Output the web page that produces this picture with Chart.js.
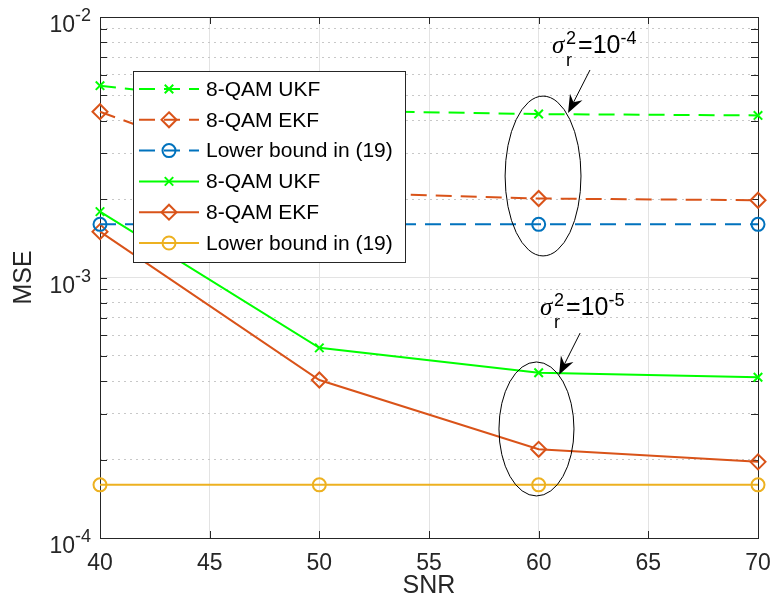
<!DOCTYPE html>
<html>
<head>
<meta charset="utf-8">
<title>MSE vs SNR</title>
<script src="https://cdn.jsdelivr.net/npm/chart.js@4.4.0/dist/chart.umd.min.js"></script>
<style>
    html, body { margin: 0; padding: 0; background: #fff; }
    #wrap { width: 771px; height: 601px; }
</style>
</head>
<body>
<div id="wrap"><canvas id="mseChart" width="771" height="601"></canvas></div>
<script>
// data
const snr = [40, 50, 60, 70];
const ukfDashed = [5.45e-3, 4.38e-3, 4.24e-3, 4.19e-3];
const ekfDashed = [4.33e-3, 2.13e-3, 2.01e-3, 1.98e-3];
const boundDashed = [1.60e-3, 1.60e-3, 1.60e-3, 1.60e-3];
const ukfSolid = [1.79e-3, 5.37e-4, 4.31e-4, 4.14e-4];
const ekfSolid = [1.50e-3, 4.04e-4, 2.19e-4, 1.96e-4];
const boundSolid = [1.60e-4, 1.60e-4, 1.60e-4, 1.60e-4];
const seriesNames = ['8-QAM UKF', '8-QAM EKF', 'Lower bound in (19)', '8-QAM UKF', '8-QAM EKF', 'Lower bound in (19)'];

const xTicks = [40, 45, 50, 55, 60, 65, 70];
const yMajorTicks = [1e-4, 1e-3, 1e-2];
const yTickLabels = [['10', '-4'], ['10', '-3'], ['10', '-2']];
const yMinorTicks = [2e-4, 3e-4, 4e-4, 5e-4, 6e-4, 7e-4, 8e-4, 9e-4,
                     2e-3, 3e-3, 4e-3, 5e-3, 6e-3, 7e-3, 8e-3, 9e-3];

// annotations (in data coordinates)
const noteEllipses = [
    { x0: 58.47, x1: 61.93, y0: 1.21e-3, y1: 4.97e-3 },
    { x0: 58.19, x1: 61.61, y0: 1.45e-4, y1: 4.74e-4 }
];
const noteArrows = [
    { from: [62.34, 6.26e-3], to: [61.34, 4.28e-3] },
    { from: [61.89, 6.12e-4], to: [60.93, 4.23e-4] }
];
const noteTexts = [
    { x: 60.61, y: 7.27e-3, exp: '-4' },
    { x: 60.06, y: 7.18e-4, exp: '-5' }
];

const FONT = '"Liberation Sans", Arial, Helvetica, sans-serif';
const INK = '#262626';
const GREEN = '#00FF00', ORANGE = '#D95319', BLUE = '#0072BD', YELLOW = '#EDB120';

function makeSet(label, values, color, style, radius, dashed) {
    return {
        label: label,
        data: snr.map((x, i) => ({ x: x, y: values[i] })),
        borderColor: color,
        backgroundColor: 'rgba(0,0,0,0)',
        borderWidth: 2,
        borderDash: dashed ? [16, 9] : [],
        pointStyle: style,
        pointRadius: radius,
        pointHoverRadius: radius,
        pointBorderWidth: 2,
        pointBorderColor: color,
        pointBackgroundColor: 'rgba(0,0,0,0)',
        tension: 0,
        fill: false,
        clip: false
    };
}

const datasets = [
    makeSet(seriesNames[0], ukfDashed, GREEN, 'crossRot', 6, true),
    makeSet(seriesNames[1], ekfDashed, ORANGE, 'rectRot', 7.5, true),
    makeSet(seriesNames[2], boundDashed, BLUE, 'circle', 6.5, true),
    makeSet(seriesNames[3], ukfSolid, GREEN, 'crossRot', 6, false),
    makeSet(seriesNames[4], ekfSolid, ORANGE, 'rectRot', 7.5, false),
    makeSet(seriesNames[5], boundSolid, YELLOW, 'circle', 6.5, false)
];

function strokeMarker(ctx, style, x, y, r) {
    ctx.beginPath();
    if (style === 'crossRot') {
        const d = Math.SQRT1_2 * r;
        ctx.moveTo(x - d, y - d); ctx.lineTo(x + d, y + d);
        ctx.moveTo(x - d, y + d); ctx.lineTo(x + d, y - d);
    } else if (style === 'rectRot') {
        ctx.moveTo(x, y - r); ctx.lineTo(x + r, y);
        ctx.lineTo(x, y + r); ctx.lineTo(x - r, y);
        ctx.closePath();
    } else {
        ctx.arc(x, y, r, 0, Math.PI * 2);
    }
    ctx.stroke();
}

// box + inward ticks like the original axes
const framePlugin = {
    id: 'frame',
    beforeDatasetsDraw(chart) {
        const { ctx, chartArea: a, scales } = chart;
        const len = 7;
        ctx.save();
        ctx.strokeStyle = INK;
        ctx.lineWidth = 1;
        ctx.setLineDash([]);
        ctx.strokeRect(a.left + 0.5, a.top + 0.5, a.right - a.left, a.bottom - a.top);
        ctx.beginPath();
        xTicks.forEach(v => {
            const px = Math.round(scales.x.getPixelForValue(v)) + 0.5;
            ctx.moveTo(px, a.bottom); ctx.lineTo(px, a.bottom - len);
            ctx.moveTo(px, a.top); ctx.lineTo(px, a.top + len);
        });
        yMajorTicks.concat(yMinorTicks).forEach(v => {
            const py = Math.round(scales.y.getPixelForValue(v)) + 0.5;
            ctx.moveTo(a.left, py); ctx.lineTo(a.left + len, py);
            ctx.moveTo(a.right, py); ctx.lineTo(a.right - len, py);
        });
        ctx.stroke();
        ctx.restore();
    }
};

// ellipses, arrows and sigma labels
const notesPlugin = {
    id: 'notes',
    afterDatasetsDraw(chart) {
        const { ctx, scales } = chart;
        const X = v => scales.x.getPixelForValue(v);
        const Y = v => scales.y.getPixelForValue(v);
        ctx.save();
        ctx.strokeStyle = '#000';
        ctx.fillStyle = '#000';
        ctx.lineWidth = 1;
        ctx.setLineDash([]);

        noteEllipses.forEach(e => {
            const l = X(e.x0), r = X(e.x1), t = Y(e.y1), b = Y(e.y0);
            ctx.beginPath();
            ctx.ellipse((l + r) / 2, (t + b) / 2, (r - l) / 2, (b - t) / 2, 0, 0, Math.PI * 2);
            ctx.stroke();
        });

        noteArrows.forEach(ar => {
            const x0 = X(ar.from[0]), y0 = Y(ar.from[1]);
            const x1 = X(ar.to[0]), y1 = Y(ar.to[1]);
            const dx = x1 - x0, dy = y1 - y0, d = Math.hypot(dx, dy);
            const ux = dx / d, uy = dy / d, nx = -uy, ny = ux;
            const head = 18, half = 7, notch = 12;
            ctx.beginPath();
            ctx.moveTo(x0, y0);
            ctx.lineTo(x1 - ux * notch, y1 - uy * notch);
            ctx.stroke();
            ctx.beginPath();
            ctx.moveTo(x1, y1);
            ctx.lineTo(x1 - ux * head + nx * half, y1 - uy * head + ny * half);
            ctx.lineTo(x1 - ux * notch, y1 - uy * notch);
            ctx.lineTo(x1 - ux * head - nx * half, y1 - uy * head - ny * half);
            ctx.closePath();
            ctx.fill();
        });

        ctx.textAlign = 'left';
        ctx.textBaseline = 'alphabetic';
        noteTexts.forEach(n => {
            const x = X(n.x), y = Y(n.y);
            ctx.font = 'italic 25px "Liberation Serif", "DejaVu Serif", serif';
            ctx.fillText('\u03C3', x, y);
            ctx.font = '18px ' + FONT;
            ctx.fillText('2', x + 14, y - 9);
            ctx.fillText('r', x + 14, y + 13);
            ctx.font = '25px ' + FONT;
            ctx.fillText('=10', x + 26, y);
            const w = ctx.measureText('=10').width;
            ctx.font = '18px ' + FONT;
            ctx.fillText(n.exp, x + 26 + w, y - 9);
        });
        ctx.restore();
    }
};

// y tick labels with superscripts, and the legend box
const labelsPlugin = {
    id: 'labels',
    afterDraw(chart) {
        const { ctx, scales } = chart;
        ctx.save();
        ctx.fillStyle = INK;
        ctx.textAlign = 'left';
        ctx.textBaseline = 'alphabetic';
        yMajorTicks.forEach((v, i) => {
            const py = scales.y.getPixelForValue(v);
            const [base, exp] = yTickLabels[i];
            ctx.font = '18px ' + FONT;
            const we = ctx.measureText(exp).width;
            ctx.font = '23px ' + FONT;
            const wb = ctx.measureText(base).width;
            const right = 91;
            ctx.fillText(base, right - we - wb, py + 15);
            ctx.font = '18px ' + FONT;
            ctx.fillText(exp, right - we, py + 4);
        });

        // legend
        const box = { left: 133, top: 71, right: 405, bottom: 262 };
        ctx.fillStyle = '#fff';
        ctx.fillRect(box.left, box.top, box.right - box.left, box.bottom - box.top);
        ctx.strokeStyle = INK;
        ctx.lineWidth = 1;
        ctx.setLineDash([]);
        ctx.strokeRect(box.left + 0.5, box.top + 0.5, box.right - box.left, box.bottom - box.top);
        chart.data.datasets.forEach((ds, i) => {
            const y = box.top + 18 + i * 30.8;
            ctx.strokeStyle = ds.borderColor;
            ctx.lineWidth = 2;
            ctx.setLineDash(ds.borderDash);
            ctx.beginPath();
            ctx.moveTo(139, y); ctx.lineTo(199, y);
            ctx.stroke();
            ctx.setLineDash([]);
            strokeMarker(ctx, ds.pointStyle, 169, y, ds.pointRadius);
            ctx.fillStyle = '#000';
            ctx.font = '21px ' + FONT;
            ctx.textBaseline = 'middle';
            ctx.fillText(ds.label, 206, y + 1);
        });
        ctx.restore();
    }
};

const ctx = document.getElementById('mseChart').getContext('2d');
const mseChart = new Chart(ctx, {
    type: 'line',
    data: { datasets: datasets },
    options: {
        responsive: false,
        animation: false,
        devicePixelRatio: 1,
        layout: { padding: { top: 17, right: 13, left: 0, bottom: 0 } },
        plugins: { legend: { display: false }, tooltip: { enabled: false } },
        scales: {
            x: {
                type: 'linear', min: 40, max: 70,
                ticks: { stepSize: 5, font: { family: FONT, size: 23 }, color: INK, padding: 12, maxRotation: 0, autoSkip: false },
                grid: { color: '#e3e3e3', drawTicks: false },
                border: { display: false },
                title: { display: true, text: 'SNR', font: { family: FONT, size: 25 }, color: INK, padding: { top: 0, bottom: 0 } },
                afterBuildTicks: s => { s.ticks = xTicks.map(v => ({ value: v })); },
                afterFit: s => { s.height = 63; s.paddingLeft = 0; s.paddingRight = 0; }
            },
            y: {
                type: 'logarithmic', min: 1e-4, max: 1e-2, position: 'left',
                ticks: { display: false },
                grid: { color: '#e3e3e3', drawTicks: false },
                border: { display: false },
                title: { display: true, text: 'MSE', font: { family: FONT, size: 25 }, color: INK, padding: { top: 9, bottom: 0 } },
                afterBuildTicks: s => { s.ticks = yMajorTicks.map(v => ({ value: v, major: true })); },
                afterFit: s => { s.width = 100; s.paddingTop = 0; s.paddingBottom = 0; }
            },
            yMinor: {
                type: 'logarithmic', min: 1e-4, max: 1e-2, position: 'left',
                ticks: { display: false },
                grid: { color: '#c8c8c8', drawTicks: false },
                border: { display: false, dash: [2, 4] },
                afterBuildTicks: s => { s.ticks = yMinorTicks.map(v => ({ value: v })); },
                afterFit: s => { s.width = 0; s.paddingTop = 0; s.paddingBottom = 0; }
            }
        }
    },
    plugins: [framePlugin, notesPlugin, labelsPlugin]
});
</script>
</body>
</html>
